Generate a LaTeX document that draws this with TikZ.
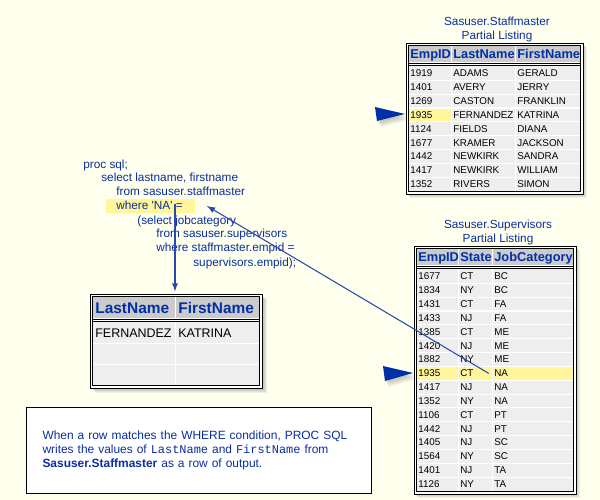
\documentclass[tikz,border=0pt]{standalone}
\usepackage{fontspec}
\setmainfont{Liberation Sans}
\setmonofont{Liberation Mono}
\usepackage{tikz}
\definecolor{paper}{HTML}{FFFFEE}
\definecolor{sasblue}{HTML}{0A2E9E}
\definecolor{hdrblue}{HTML}{0030A8}
\definecolor{linkblue}{HTML}{2A4AAA}
\definecolor{hilite}{HTML}{FFF59A}
\definecolor{hdrgray}{HTML}{CBCBCB}
\definecolor{cellgray}{HTML}{EEEEEE}

\begin{document}
\begin{tikzpicture}[x=0.02cm,y=-0.02cm,
  code/.style={anchor=base west,inner sep=0,text=sasblue,font=\fontsize{6.7}{8}\selectfont},
  cell/.style={anchor=base west,inner sep=0,font=\fontsize{5.6}{6}\selectfont},
  hdr/.style={anchor=base west,inner sep=0,text=hdrblue,font=\bfseries\fontsize{7.3}{8}\selectfont},
  title/.style={inner sep=0,text=sasblue,font=\fontsize{6.7}{8}\selectfont,align=center},
  frame/.style={draw=black,line width=0.45pt},
  grid/.style={white,line width=0.6pt},
  haze/.style={black,fill opacity=0.06},
  pointer/.style={fill=hdrblue},
  link/.style={linkblue,line width=0.6pt,>=latex}]
\fill[paper] (0,0) rectangle (600,500);

% the query
\fill[hilite] (106,199) rectangle (195,213);
\foreach \x/\y/\t [count=\i] in {83/165/{proc sql;},101/178/{select lastname, firstname},
    116/192/{from sasuser.staffmaster},116/206/{where \textquotesingle NA\textquotesingle\ =},
    137/221/{(select jobcategory},156/234/{from sasuser.supervisors},
    156/248/{where staffmaster.empid =},193/263/{supervisors.empid);}}
  \node[code] (code\i) at (\x,\y+4) {\t};

% Sasuser.Staffmaster
\node[title] (smtitle) at (497,29) {Sasuser.Staffmaster\\Partial Listing};
\foreach \s in {1,...,4} \fill[haze] (406+\s,43+\s) rectangle (583+\s,194+\s);
\fill[white] (406,43) rectangle (583,194);
\fill[hdrgray] (409,46) rectangle (580,62.5);
\fill[cellgray] (409,66.5) rectangle (580,191);
\fill[hilite] (409,107.9) rectangle (451.5,121.7);
\foreach \k in {1,...,8} \draw[grid] (409,66.5+13.83*\k) -- (580,66.5+13.83*\k);
\foreach \x in {451.5,515.5} \draw[grid] (\x,46) -- (\x,62.5) (\x,66.5) -- (\x,191);
\draw[frame] (406,43) rectangle (583,194) (408.2,45.2) rectangle (580.8,191.8)
  (408,63.5) -- (581,63.5) (408,65.7) -- (581,65.7);
\node[hdr] (sm-h1) at (410,59) {EmpID};
\node[hdr] (sm-h2) at (453,59) {LastName};
\node[hdr] (sm-h3) at (517,59) {FirstName};
\foreach \a/\b/\c [count=\i] in {1919/ADAMS/GERALD,1401/AVERY/JERRY,1269/CASTON/FRANKLIN,
    1935/FERNANDEZ/KATRINA,1124/FIELDS/DIANA,1677/KRAMER/JACKSON,1442/NEWKIRK/SANDRA,
    1417/NEWKIRK/WILLIAM,1352/RIVERS/SIMON}{
  \node[cell] (sm-\i-1) at (410,76.9+13.83*\i-13.83) {\a};
  \node[cell] (sm-\i-2) at (453,76.9+13.83*\i-13.83) {\b};
  \node[cell] (sm-\i-3) at (517,76.9+13.83*\i-13.83) {\c};}
\foreach \s in {1,...,4} \fill[haze] (375+\s,107+1.5*\s) -- (405+\s,114+1.5*\s) -- (377+\s,121+1.5*\s) -- cycle;
\path[pointer] (375,107) -- (405,114) -- (377,121) -- cycle;

% Sasuser.Supervisors
\node[title] (svtitle) at (498,232) {Sasuser.Supervisors\\Partial Listing};
\foreach \s in {1,...,4} \fill[haze] (414+\s,246+\s) rectangle (576+\s,494+\s);
\fill[white] (414,246) rectangle (576,494);
\fill[hdrgray] (417,249) rectangle (573,265.5);
\fill[cellgray] (417,269.5) rectangle (573,491);
\fill[hilite] (417,366.4) rectangle (573,380.2);
\foreach \k in {1,...,15} \draw[grid] (417,269.5+13.84*\k) -- (573,269.5+13.84*\k);
\foreach \x in {458.5,492.5} \draw[grid] (\x,249) -- (\x,265.5) (\x,269.5) -- (\x,491);
\draw[frame] (414,246) rectangle (576,494) (416.2,248.2) rectangle (573.8,491.8)
  (416,266.5) -- (574,266.5) (416,268.7) -- (574,268.7);
\node[hdr] (sv-h1) at (418,262) {EmpID};
\node[hdr] (sv-h2) at (460,262) {State};
\node[hdr] (sv-h3) at (494,262) {JobCategory};
\foreach \a/\b/\c [count=\i] in {1677/CT/BC,1834/NY/BC,1431/CT/FA,1433/NJ/FA,1385/CT/ME,
    1420/NJ/ME,1882/NY/ME,1935/CT/NA,1417/NJ/NA,1352/NY/NA,1106/CT/PT,1442/NJ/PT,
    1405/NJ/SC,1564/NY/SC,1401/NJ/TA,1126/NY/TA}{
  \node[cell] (sv-\i-1) at (418,279.9+13.84*\i-13.84) {\a};
  \node[cell] (sv-\i-2) at (460,279.9+13.84*\i-13.84) {\b};
  \node[cell] (sv-\i-3) at (494,279.9+13.84*\i-13.84) {\c};}
\foreach \s in {1,...,4} \fill[haze] (383+\s,366+1.5*\s) -- (413+\s,373+1.5*\s) -- (385+\s,381+1.5*\s) -- cycle;
\path[pointer] (383,366) -- (413,373) -- (385,381) -- cycle;

% query result
\foreach \s in {1,...,5} \fill[haze] (90+\s,294+\s) rectangle (262+\s,388+\s);
\node[frame,fill=white,anchor=north west,inner sep=0,minimum width=3.44cm,minimum height=1.88cm] (res) at (90,294) {};
\fill[hdrgray] (93,297) rectangle (259,318.5);
\fill[cellgray] (93,322.5) rectangle (259,385);
\foreach \y in {343.3,364.2} \draw[grid] (93,\y) -- (259,\y);
\draw[grid] (175.5,297) -- (175.5,318.5) (175.5,322.5) -- (175.5,385);
\draw[frame] (92.2,296.2) rectangle (259.8,385.8) (92,319.5) -- (260,319.5) (92,321.7) -- (260,321.7);
\node[hdr,font=\bfseries\fontsize{8.8}{10}\selectfont] (res-h1) at (95,313.5) {LastName};
\node[hdr,font=\bfseries\fontsize{8.8}{10}\selectfont] (res-h2) at (178,313.5) {FirstName};
\node[cell,font=\fontsize{7.1}{8}\selectfont] (res-1) at (95,337.5) {FERNANDEZ};
\node[cell,font=\fontsize{7.1}{8}\selectfont] (res-2) at (178,337.5) {KATRINA};

% connectors
\coordinate (wherecut) at (175,204);
\coordinate (nahook) at (207,206);
\draw[link,->,shorten >=1.5pt] (wherecut) -- (wherecut |- res.north);
\draw[link,->] ([xshift=-3pt]sv-8-3.west) -- (nahook);

% note
\node[draw=black,fill=white,line width=0.6pt,anchor=north west,inner xsep=0.32cm,
  minimum width=6.9cm,minimum height=1.72cm,text width=6.26cm,align=left,
  text=sasblue,font=\fontsize{6.8}{8}\selectfont] (note) at (26,407)
  {When a row matches the WHERE condition, PROC SQL\\
   writes the values of \texttt{LastName} and \texttt{FirstName} from\\
   \textbf{Sasuser.Staffmaster} as a row of output.};
\end{tikzpicture}
\end{document}
